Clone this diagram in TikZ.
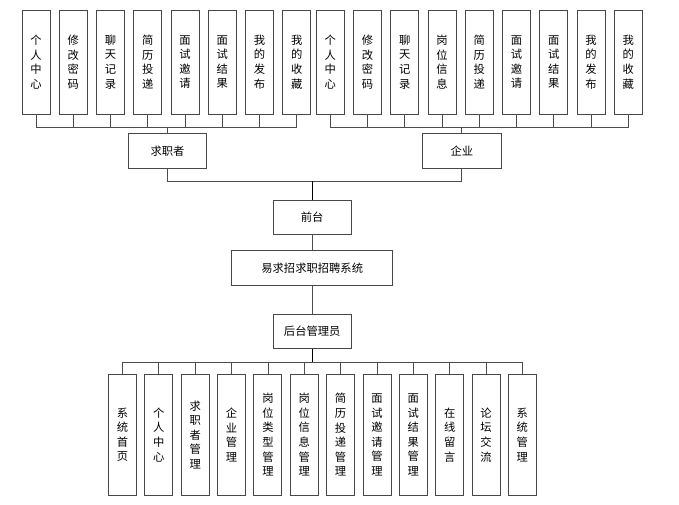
\documentclass[tikz,border=0pt]{standalone}
\usepackage{fontspec}
\newfontfamily\cjk{Noto Sans CJK SC}
\tikzset{
  box/.style={draw=black!72, line width=0.9pt, fill=white, inner sep=0pt, align=center, text=black},
  vtop/.style={box, minimum width=28pt, minimum height=104pt, font=\cjk\fontsize{11.3}{14.6}\selectfont},
  vbot/.style={box, minimum width=28pt, minimum height=120.5pt, font=\cjk\fontsize{11.3}{14.6}\selectfont},
  hbox/.style={box, minimum height=35pt, font=\cjk\fontsize{11.3}{13}\selectfont},
  branch/.style={draw=black!70, line width=0.8pt},
  trunk/.style={draw=black, line width=1.4pt},
}
\begin{document}
\begin{tikzpicture}[x=1pt,y=-1pt]
\useasboundingbox (0,0) rectangle (679,505);
% top-left group
\foreach \t [count=\i from 0] in {个\\人\\中\\心,修\\改\\密\\码,聊\\天\\记\\录,简\\历\\投\\递,面\\试\\邀\\请,面\\试\\结\\果,我\\的\\发\\布,我\\的\\收\\藏}
  \node[vtop] (L\i) at ({36+37.25*\i},62) {\t};
% top-right group
\foreach \t [count=\i from 0] in {个\\人\\中\\心,修\\改\\密\\码,聊\\天\\记\\录,岗\\位\\信\\息,简\\历\\投\\递,面\\试\\邀\\请,面\\试\\结\\果,我\\的\\发\\布,我\\的\\收\\藏}
  \node[vtop] (R\i) at ({330.3+37.25*\i},62) {\t};
\node[hbox, minimum width=77.6pt] (js) at (167.5,150.8) {求职者};
\node[hbox, minimum width=78.3pt] (qy) at (461.8,150.8) {企业};
\node[hbox, minimum width=77.7pt, minimum height=34.3pt] (qt) at (312.2,217.2) {前台};
\node[hbox, minimum width=161pt] (sys) at (312.2,268.2) {易求招求职招聘系统};
\node[hbox, minimum width=77.7pt, minimum height=34.3pt] (adm) at (312.2,331.2) {后台管理员};
% bottom group
\foreach \t [count=\i from 0] in {系\\统\\首\\页,个\\人\\中\\心,求\\职\\者\\管\\理,企\\业\\管\\理,岗\\位\\类\\型\\管\\理,岗\\位\\信\\息\\管\\理,简\\历\\投\\递\\管\\理,面\\试\\邀\\请\\管\\理,面\\试\\结\\果\\管\\理,在\\线\\留\\言,论\\坛\\交\\流,系\\统\\管\\理}
  \node[vbot] (B\i) at ({122.5+36.35*\i},434.8) {\t};
% connectors
\coordinate (busL) at (167.5,127.5);
\coordinate (busR) at (461.8,127.5);
\coordinate (mid) at (312.2,181);
\coordinate (busB) at (312.2,362);
\foreach \i in {0,...,7} \draw[branch] (L\i.south) |- (busL);
\foreach \i in {0,...,8} \draw[branch] (R\i.south) |- (busR);
\draw[branch] (busL) -- (js.north);
\draw[branch] (busR) -- (qy.north);
\draw[branch] (js.south) |- (mid);
\draw[branch] (qy.south) |- (mid);
\draw[trunk] (mid) -- (qt.north);
\draw[branch] (qt.south) -- (sys.north);
\draw[branch] (sys.south) -- (adm.north);
\draw[trunk] (adm.south) -- (busB);
\foreach \i in {0,...,11} \draw[branch] (B\i.north) |- (busB);
\end{tikzpicture}
\end{document}
